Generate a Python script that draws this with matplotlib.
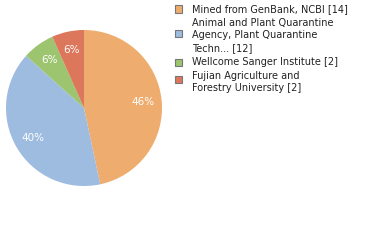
import matplotlib
matplotlib.use("Agg")
import matplotlib.pyplot as plt
from matplotlib.patches import Rectangle
import numpy as np

labels = ["Mined from GenBank, NCBI [14]",
          "Animal and Plant Quarantine\nAgency, Plant Quarantine\nTechn... [12]",
          "Wellcome Sanger Institute [2]",
          "Fujian Agriculture and\nForestry University [2]"]
values = [14, 12, 2, 2]
pct_labels = ["46%", "40%", "6%", "6%"]
colors = ["#EEAD6E", "#9EBBE0", "#9DC46F", "#DC775B"]

W, H = 380, 240
fig = plt.figure(figsize=(3.8, 2.4), dpi=100)
ax = fig.add_axes([0.0158, 0.225, 0.4105, 0.65])
wedges, _ = ax.pie(values, colors=colors, startangle=90, counterclock=False,
                   radius=1.0, wedgeprops=dict(linewidth=0))
for w, t in zip(wedges, pct_labels):
    ang = np.deg2rad((w.theta1 + w.theta2) / 2)
    r = 0.76
    ax.text(r * np.cos(ang), r * np.sin(ang), t, ha="center", va="center",
            color="white", fontsize=7.5)
ax.set_xlim(-1, 1)
ax.set_ylim(-1, 1)
ax.set_aspect("auto")

# manual legend layout (pixel units)
y = 9.0
pitch = 12.1
gap = 14.4
sq = 7
for i, (lab, c) in enumerate(zip(labels, colors)):
    lines = lab.split("\n")
    ys = [y + k * pitch for k in range(len(lines))]
    for ln, yy in zip(lines, ys):
        fig.text(192 / W, 1 - yy / H, ln, ha="left", va="center", fontsize=7,
                 color="#222222")
    cy = (ys[0] + ys[-1]) / 2 - (2.5 if len(lines) > 1 else 0)
    fig.add_artist(Rectangle((175 / W, 1 - (cy + sq / 2) / H), sq / W, sq / H,
                             transform=fig.transFigure, facecolor=c,
                             edgecolor="#777777", linewidth=0.8))
    y = ys[-1] + gap

fig.savefig("out.png", dpi=100)
